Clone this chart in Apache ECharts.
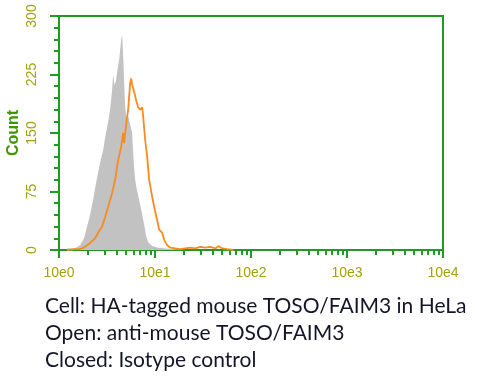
<!DOCTYPE html>
<html>
<head>
<meta charset="utf-8">
<script src="https://cdn.jsdelivr.net/npm/echarts@6/dist/echarts.min.js"></script>
<style>html,body{margin:0;padding:0;background:#fff;}#c{width:500px;height:388px;}</style>
</head>
<body>
<div id="c"></div>
<script>
// Fluorescence intensity (x) and event count (y)
var closedX = [1.212,1.367,1.505,1.657,1.824,1.960,2.107,2.264,2.433,2.554,2.679,2.879,3.021,3.247,3.407,3.574,3.662,3.796,3.936,4.031,4.231,4.439,4.547,4.658,4.771,4.887,5.006,5.253,5.511,5.781,5.922,6.066,6.214,6.365,6.677,7.006,7.350,7.714,8.094,8.492,9.350,10.80,12.78,16.25,20.66];
var closedY = [2,2,3,6,15,30,45,64,86,99,112,128,144,164,180,205,224,211,218,228,244,269,276,250,215,185,170,172,173,150,125,105,90,82,70,58,46,32,18,10,5,3,2,1,0];

var openX = [1.212,1.469,1.657,1.868,2.107,2.375,2.554,2.811,3.021,3.247,3.574,3.842,4.130,4.439,4.658,4.771,4.887,5.128,5.253,5.511,5.645,5.781,5.922,6.066,6.365,6.677,7.006,7.350,7.529,7.901,8.292,8.700,9.350,9.809,10.54,11.06,11.89,12.47,13.41,14.41,16.25,18.33,20.66,23.31,26.28,29.64,33.42,37.69,42.50,45.67,50.29,56.72,65.51];
var openY = [0,1,1,4,9,15,22,30,42,55,73,90,115,132,150,137,150,171,180,214,220,212,211,203,192,183,180,183,171,141,119,90,68,55,38,26,22,13,6,3,2,1,2,3,2,4,3,4,2,5,2,1,0];

var yTicks = [0,75,150,225,300];
var xDecadeLabels = ['10e0','10e1','10e2','10e3','10e4'];
var captionLines = ['Cell: HA-tagged mouse TOSO/FAIM3 in HeLa','Open: anti-mouse TOSO/FAIM3','Closed: Isotype control'];

function pairs(xs, ys){ return xs.map(function(x,i){ return [x, ys[i]]; }); }
var minorLog = [];
for (var d = 0; d < 4; d++) { for (var k = 2; k <= 9; k++) minorLog.push(d + Math.log10(k)); }

var green = '#229922';
var labelColor = '#a3a010';
var chart = echarts.init(document.getElementById('c'), null, {renderer:'canvas'});
chart.setOption({
  animation: false,
  backgroundColor: '#fff',
  grid: {left: 59, top: 16, right: 57, bottom: 138, show: true, borderColor: green, borderWidth: 2, outerBoundsMode: 'none', containLabel: false},
  xAxis: [{
    type: 'log', logBase: 10, min: 1, max: 10000, position: 'bottom',
    axisLine: {show: true, lineStyle: {color: green, width: 2}},
    axisTick: {show: true, length: 8, lineStyle: {color: green, width: 2}},
    axisLabel: {color: labelColor, fontSize: 14, fontFamily: 'Liberation Sans, Arial', margin: 16,
      formatter: function(v){ return xDecadeLabels[Math.round(Math.log10(v))]; }},
    splitLine: {show: false}
  }, {
    type: 'value', min: 0, max: 4, position: 'bottom',
    axisLine: {show: false},
    axisTick: {show: true, length: 5, customValues: minorLog, lineStyle: {color: green, width: 2}},
    axisLabel: {show: false},
    splitLine: {show: false}
  }],
  yAxis: {
    type: 'value', min: yTicks[0], max: yTicks[yTicks.length-1], interval: 75,
    name: 'Count', nameLocation: 'middle', nameGap: 37, nameMoveOverlap: false,
    nameTextStyle: {color: '#3f9600', fontSize: 16, fontWeight: 'bold', fontFamily: 'Liberation Sans, Arial'},
    axisLine: {show: true, lineStyle: {color: green, width: 2}},
    axisTick: {show: true, length: 9, lineStyle: {color: green, width: 2}},
    minorTick: {show: true, splitNumber: 5, length: 5, lineStyle: {color: green, width: 2}},
    axisLabel: {color: labelColor, fontSize: 14, fontFamily: 'Liberation Sans, Arial', rotate: 90, margin: 20},
    splitLine: {show: false}, minorSplitLine: {show: false}
  },
  series: [{
    name: 'Closed', type: 'line', xAxisIndex: 0, data: pairs(closedX, closedY),
    showSymbol: false, smooth: false,
    lineStyle: {width: 0, color: '#c2c2c2'},
    areaStyle: {color: '#c2c2c2', opacity: 1}
  }, {
    name: 'Open', type: 'line', xAxisIndex: 0, data: pairs(openX, openY),
    showSymbol: false, smooth: false,
    lineStyle: {width: 1.8, color: '#f98b1e'}
  }],
  graphic: captionLines.map(function(t, i){
    return {type: 'text', left: 45, top: 296 + i * 27,
      style: {text: t, fill: '#15152a', font: '21px Lato, "Open Sans", sans-serif'}};
  })
});
</script>
</body>
</html>
